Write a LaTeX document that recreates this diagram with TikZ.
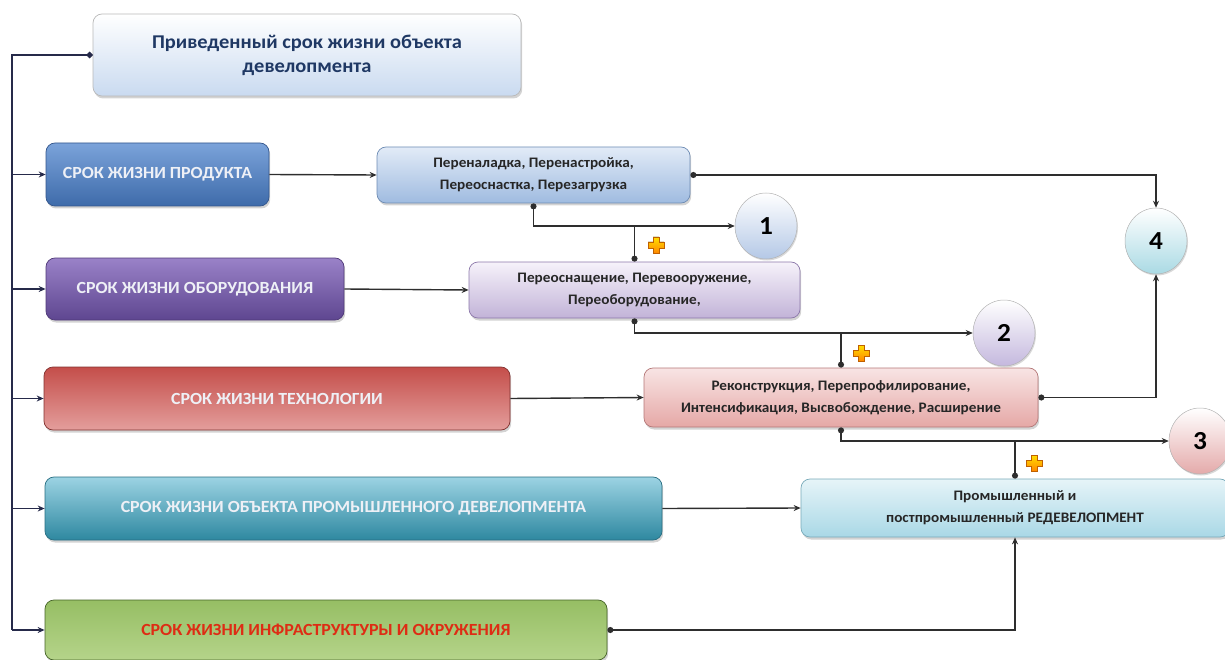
\documentclass[tikz,border=0pt]{standalone}
\usepackage{fontspec}
\setmainfont{Carlito}[FakeStretch=1.05]
\usetikzlibrary{arrows.meta,shadows,shapes.geometric}

\definecolor{navy}{HTML}{1F3864}
\definecolor{linegray}{HTML}{2E2E2E}
\definecolor{trunkcol}{HTML}{262A4A}
\definecolor{capstext}{HTML}{EEF0F6}
% header
\definecolor{hdbot}{HTML}{C9DAF0}
% product
\definecolor{prEdge}{HTML}{34568C}
\definecolor{prTop}{HTML}{7BA3DA}
\definecolor{prMid}{HTML}{5B8BCB}
\definecolor{prBot}{HTML}{3E6BAA}
% equipment
\definecolor{eqEdge}{HTML}{503A78}
\definecolor{eqTop}{HTML}{9A82C8}
\definecolor{eqMid}{HTML}{8468B8}
\definecolor{eqBot}{HTML}{5E4690}
% technology
\definecolor{teEdge}{HTML}{823230}
\definecolor{teTop}{HTML}{C44E4A}
\definecolor{teMid}{HTML}{CE605C}
\definecolor{teBot}{HTML}{E49E9C}
% industrial object
\definecolor{inEdge}{HTML}{286E82}
\definecolor{inTop}{HTML}{9CD3E3}
\definecolor{inMid}{HTML}{4BACC6}
\definecolor{inBot}{HTML}{2E88A0}
% infrastructure
\definecolor{ifEdge}{HTML}{466428}
\definecolor{ifTop}{HTML}{96BE64}
\definecolor{ifMid}{HTML}{8CB455}
\definecolor{ifBot}{HTML}{B5D48A}
\definecolor{ifText}{HTML}{DE2C14}
% measure boxes
\definecolor{m1Edge}{HTML}{6E8CB4}
\definecolor{m1Top}{HTML}{E2EBF7}
\definecolor{m1Bot}{HTML}{9FBBE0}
\definecolor{m2Edge}{HTML}{8C78AA}
\definecolor{m2Top}{HTML}{F6F2FA}
\definecolor{m2Bot}{HTML}{C2B3D8}
\definecolor{m3Edge}{HTML}{B47878}
\definecolor{m3Top}{HTML}{F8E4E4}
\definecolor{m3Bot}{HTML}{E5A8A6}
\definecolor{m4Edge}{HTML}{78AAB9}
\definecolor{m4Top}{HTML}{E6F4F8}
\definecolor{m4Bot}{HTML}{A9D8E6}
% result balls
\definecolor{b1}{HTML}{B4C8E6}
\definecolor{b2}{HTML}{C4B8DE}
\definecolor{b3}{HTML}{E4AAAA}
\definecolor{b4}{HTML}{AADAE4}

\tikzset{
  box/.style={draw=#1, line width=0.7pt, rounded corners=9pt, align=center,
    inner sep=2pt, drop shadow={shadow xshift=1.2pt, shadow yshift=-2.5pt, opacity=0.35}},
  capsbox/.style={box=#1, font=\fontsize{17}{20}\selectfont\bfseries, text=capstext},
  lightbox/.style={box=#1, font=\fontsize{14.5}{22}\selectfont\bfseries, text=black!85},
  numball/.style={ellipse, draw=gray!60, line width=0.5pt,
    font=\fontsize{26}{26}\selectfont\bfseries, inner sep=0pt,
    minimum width=62pt, minimum height=66pt, top color=white, bottom color=#1,
    drop shadow={shadow xshift=1pt, shadow yshift=-1.5pt, opacity=0.3}},
  conn/.style={draw=linegray, line width=1.4pt},
  trunk/.style={draw=trunkcol, line width=2.2pt},
  stub/.style={draw=trunkcol, line width=1.8pt},
  tip/.style={-{Stealth[length=7pt,width=6pt]}},
  dottip/.style={{Circle[length=6pt]}-{Stealth[length=7pt,width=6pt]}},
  dotline/.style={{Circle[length=6pt]}-},
  plusmark/.pic={
    \fill[top color=yellow!75!orange, bottom color=orange!90!red!85!yellow, draw=orange!75!black, line width=0.3pt]
      (-3,-8) -- (3,-8) -- (3,-3) -- (8,-3) -- (8,3) -- (3,3) -- (3,8) -- (-3,8) -- (-3,3)
      -- (-8,3) -- (-8,-3) -- (-3,-3) -- cycle;
  }
}

\begin{document}
\begin{tikzpicture}[x=1pt,y=-1pt]
\useasboundingbox (0,0) rectangle (1225,660);
\clip (0,0) rectangle (1225,660);

% header box
\node[box=gray!55, top color=white, bottom color=hdbot,
  minimum width=428pt, minimum height=82pt,
  text=navy, font=\fontsize{19.5}{24}\selectfont\bfseries] (title) at (307,55)
  {Приведенный срок жизни объекта\\девелопмента};

% lifetime boxes on the left
\node[capsbox=prEdge, top color=prTop, middle color=prMid, bottom color=prBot,
  minimum width=223pt, minimum height=63pt] (prod) at (157.5,174.5)
  {СРОК ЖИЗНИ ПРОДУКТА};
\node[capsbox=eqEdge, top color=eqTop, middle color=eqMid, bottom color=eqBot,
  minimum width=298pt, minimum height=62pt] (equip) at (195,289)
  {СРОК ЖИЗНИ ОБОРУДОВАНИЯ};
\node[capsbox=teEdge, top color=teTop, middle color=teMid, bottom color=teBot,
  minimum width=466pt, minimum height=63pt] (tech) at (277,398.5)
  {СРОК ЖИЗНИ ТЕХНОЛОГИИ};
\node[capsbox=inEdge, top color=inTop, middle color=inMid, bottom color=inBot,
  minimum width=617pt, minimum height=63pt] (indus) at (353.5,508.5)
  {СРОК ЖИЗНИ ОБЪЕКТА ПРОМЫШЛЕННОГО ДЕВЕЛОПМЕНТА};
\node[capsbox=ifEdge, top color=ifTop, middle color=ifMid, bottom color=ifBot,
  minimum width=562pt, minimum height=60pt, text=ifText] (infra) at (326,630)
  {СРОК ЖИЗНИ ИНФРАСТРУКТУРЫ И ОКРУЖЕНИЯ};

% measures
\node[lightbox=m1Edge, top color=m1Top, bottom color=m1Bot,
  minimum width=313pt, minimum height=56pt] (renal) at (533.5,175)
  {Переналадка, Перенастройка,\\Переоснастка, Перезагрузка};
\node[lightbox=m2Edge, top color=m2Top, bottom color=m2Bot,
  minimum width=331pt, minimum height=56pt] (reosn) at (634.5,290)
  {Переоснащение, Перевооружение,\\Переоборудование,};
\node[lightbox=m3Edge, top color=m3Top, bottom color=m3Bot,
  minimum width=394pt, minimum height=59pt] (rekon) at (841,397.5)
  {Реконструкция, Перепрофилирование,\\Интенсификация, Высвобождение, Расширение};
\node[lightbox=m4Edge, top color=m4Top, bottom color=m4Bot,
  minimum width=428pt, minimum height=58pt] (redev) at (1015,508)
  {Промышленный и\\постпромышленный РЕДЕВЕЛОПМЕНТ};

% numbered results
\node[numball=b1] (c1) at (766,226) {1};
\node[numball=b2] (c2) at (1004,333) {2};
\node[numball=b3] (c3) at (1200,441) {3};
\node[numball=b4] (c4) at (1156,241) {4};

% trunk on the left
\coordinate (ttop) at (12,55);
\coordinate (tbot) at (12,630);
\draw[trunk, dotline] (title.west) -- (ttop) -- (tbot);
\foreach \n in {prod,equip,tech,indus,infra}
  \draw[stub, tip] (ttop |- \n.west) -- (\n.west);

% lifetimes to measures
\draw[conn, tip] (prod.east) -- (renal.west);
\draw[conn, tip] (equip.east) -- (reosn.west);
\draw[conn, tip] (tech.east) -- (rekon.west);
\draw[conn, tip] (indus.east) -- (redev.west);
\draw[conn, dottip] (infra.east) -| (redev.south);

% measures to results
\draw[conn, dottip] (renal.east) -| (c4.north);
\draw[conn, dottip] (rekon.east) -| (c4.south);
\draw[conn, dottip] (renal.south) |- (c1.west);
\draw[conn, dotline] (reosn.north) -- (reosn.north |- c1.west);
\draw[conn, dottip] (reosn.south) |- (c2.west);
\draw[conn, dotline] (rekon.north) -- (rekon.north |- c2.west);
\draw[conn, dottip] (rekon.south) |- (c3.west);
\draw[conn, dotline] (redev.north) -- (redev.north |- c3.west);

% plus marks
\pic at (656,245) {plusmark};
\pic at (861,353) {plusmark};
\pic at (1034,463) {plusmark};
\end{tikzpicture}
\end{document}
